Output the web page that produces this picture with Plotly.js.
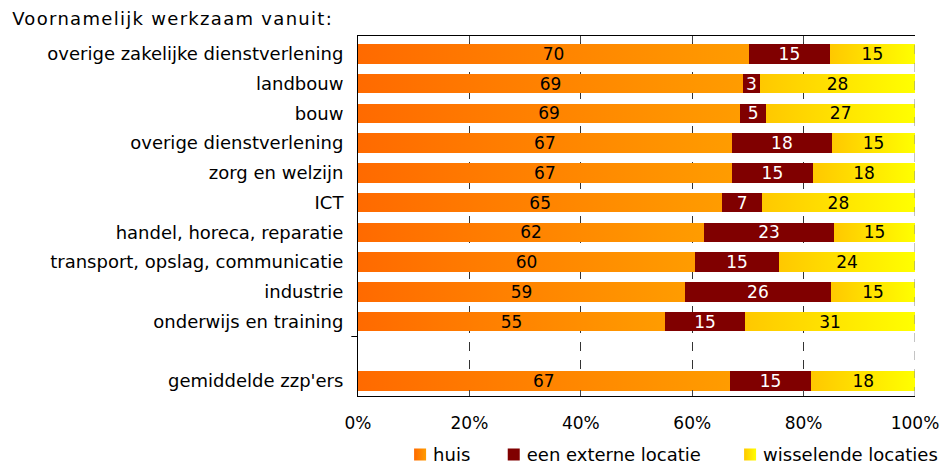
<!DOCTYPE html>
<html><head><meta charset="utf-8">
<script src="https://cdn.plot.ly/plotly-3.0.1.min.js"></script>
<style>body{margin:0;background:#fff}#chart{width:946px;height:465px}</style>
</head><body><div id="chart"></div>
<script>
const categories = ["overige zakelijke dienstverlening","landbouw","bouw","overige dienstverlening","zorg en welzijn","ICT","handel, horeca, reparatie","transport, opslag, communicatie","industrie","onderwijs en training"," ","gemiddelde zzp'ers"];
// bar lengths (percent)
const huis = [70.2,69.1,68.6,67.1,67.1,65.4,62.1,60.5,58.7,55.1,null,66.7];
const extern = [14.5,3.1,4.7,18.0,14.6,7.1,23.4,15.1,26.2,14.4,null,14.7];
const wisselend = [15.3,27.8,26.7,14.9,18.3,27.5,14.5,24.4,15.1,30.5,null,18.6];
// printed labels
const huisLabels = ["70","69","69","67","67","65","62","60","59","55","","67"];
const externLabels = ["15","3","5","18","15","7","23","15","26","15","","15"];
const wisselendLabels = ["15","28","27","15","18","28","15","24","15","31","","18"];
const seriesNames = ["huis","een externe locatie","wisselende locaties"];
const xTickVals = [0,20,40,60,80,100];
const xTickText = ["0%","20%","40%","60%","80%","100%"];

const FONT = "DejaVu Sans, Verdana, sans-serif";
const NB = "\u00a0";
const common = {type:"bar", orientation:"h", y:categories, width:0.66,
  textposition:"inside", insidetextanchor:"middle", textangle:0, constraintext:"none",
  hoverinfo:"skip", cliponaxis:false};
const data = [
  Object.assign({}, common, {name:seriesNames[0]+NB+NB, x:huis, text:huisLabels,
    marker:{color:"#ff8400"}, textfont:{color:"#000", size:17, family:FONT}}),
  Object.assign({}, common, {name:seriesNames[1]+NB+NB+NB, x:extern, text:externLabels,
    marker:{color:"#800000"}, textfont:{color:"#fff", size:17, family:FONT}}),
  Object.assign({}, common, {name:seriesNames[2], x:wisselend, text:wisselendLabels,
    marker:{color:"#ffe000"}, textfont:{color:"#000", size:17, family:FONT}})
];
const layout = {
  width:946, height:465, barmode:"stack",
  margin:{l:358, r:31, t:36, b:69, autoexpand:false},
  paper_bgcolor:"#fff", plot_bgcolor:"#fff",
  font:{family:FONT, size:17, color:"#000"},
  showlegend:true,
  legend:{orientation:"h", x:0.063, xanchor:"left", xref:"paper", yref:"paper", y:-0.163, yanchor:"middle",
    font:{size:18, family:FONT}, traceorder:"normal", itemwidth:30, tracegroupgap:0},
  xaxis:{range:[0,100], tickvals:xTickVals, ticktext:xTickText,
    showgrid:true, gridcolor:"#333", griddash:"dash", gridwidth:1,
    showline:true, linecolor:"#000", linewidth:1, mirror:"allticks",
    ticks:"inside", ticklen:6, tickcolor:"#444", zeroline:false,
    tickfont:{size:17, family:FONT}, ticklabelstandoff:12, fixedrange:true},
  yaxis:{type:"category", categoryorder:"array", categoryarray:categories,
    autorange:false, range:[11.5,-0.6], showline:true, linecolor:"#000", linewidth:1,
    ticks:"", showgrid:false, tickfont:{size:18, family:FONT}, ticklabelstandoff:10, fixedrange:true},
  shapes:[
    {type:"line", xref:"paper", yref:"y", x0:-0.012, x1:0, y0:9.5, y1:9.5, line:{color:"#000", width:1}},
    {type:"line", xref:"x", yref:"paper", x0:100, x1:100, y0:0, y1:1, line:{color:"#888", width:1, dash:"dash"}}
  ],
  annotations:[{text:"Voornamelijk werkzaam vanuit:", xref:"paper", yref:"paper",
    x:-346/557, y:1, xanchor:"left", yanchor:"bottom", xshift:17, yshift:5, showarrow:false,
    font:{size:18, family:FONT}}]
};
Plotly.newPlot("chart", data, layout, {displayModeBar:false, staticPlot:true}).then(function(gd){
  const svg = gd.querySelector("svg.main-svg");
  const ns = "http://www.w3.org/2000/svg";
  let defs = svg.querySelector("defs");
  if(!defs){defs=document.createElementNS(ns,"defs");svg.insertBefore(defs,svg.firstChild);}
  function grad(id,c1,c2){
    const g=document.createElementNS(ns,"linearGradient");
    g.setAttribute("id",id);g.setAttribute("x1","0");g.setAttribute("x2","1");g.setAttribute("y1","0");g.setAttribute("y2","0");
    [[0,c1],[1,c2]].forEach(function(s){const st=document.createElementNS(ns,"stop");st.setAttribute("offset",s[0]);st.setAttribute("stop-color",s[1]);g.appendChild(st);});
    defs.appendChild(g);
  }
  grad("gOrange","#ff6a00","#ff9c00");
  grad("gYellow","#ffc800","#ffff00");
  const traces = svg.querySelectorAll(".barlayer .trace.bars");
  const fills = ["url(#gOrange)", null, "url(#gYellow)"];
  traces.forEach(function(t,i){ if(fills[i]) t.querySelectorAll(".point path").forEach(function(p){p.style.fill=fills[i];}); });
  const legs = gd.querySelectorAll(".legend .traces");
  legs.forEach(function(t,i){
    const lp = t.querySelector(".legendpoints");
    if(lp) lp.setAttribute("transform","translate(7,0)");
    if(fills[i]) t.querySelectorAll(".legendpoints path").forEach(function(p){p.style.fill=fills[i];});
  });
  gd.querySelectorAll(".annotation-text").forEach(function(t){t.style.letterSpacing="1.3px";});
});
</script></body></html>
